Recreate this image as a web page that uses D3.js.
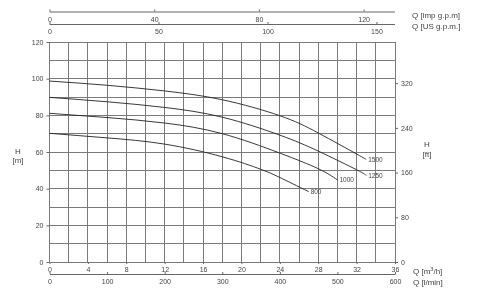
<!DOCTYPE html>
<html><head><meta charset="utf-8">
<script src="https://cdn.jsdelivr.net/npm/d3@7"></script>
<style>
body{margin:0;background:#fff;}
svg{display:block;font-family:"Liberation Sans",Arial,Helvetica,sans-serif;will-change:transform;}
</style></head>
<body><svg id="c" width="480" height="294"></svg>
<script>
// ---- data ----
const qTicks = [0,4,8,12,16,20,24,28,32,36];          // m3/h
const lminTicks = [0,100,200,300,400,500,600];         // l/min
const impTicks = [0,40,80,120];                        // imp gpm
const usTicks = [0,50,100,150];                        // US gpm
const hTicks = [0,20,40,60,80,100,120];                // m
const ftTicks = [0,80,160,240,320];                    // ft
const speeds = ["1500","1250","1000","800"];
const q1500 = [0,6,12,18,24,28,32,33];
const h1500 = [98.7,96.4,93.3,88.5,79.8,70.4,58.9,56];
const q1250 = [0,6,12,18,24,28,32,33];
const h1250 = [89.8,87.4,84.3,79,69.2,60.5,50.3,47.2];
const q1000 = [0,6,12,18,24,28,30];
const h1000 = [81.1,78.8,75.8,70,59.4,50.9,44.8];
const q800 = [0,6,12,18,22,24,27];
const h800 = [70.2,67.7,64.3,57.4,50.6,46.1,38.4];
const curves = [[q1500,h1500],[q1250,h1250],[q1000,h1000],[q800,h800]];

// ---- scales ----
const L=49.5, R=395, T=42, B=262;
const x = d3.scaleLinear([0,36],[L,R]);
const y = d3.scaleLinear([0,120],[B,T]);
const yft = d3.scaleLinear([0,120*3.28084],[B,T]);
const xl = d3.scaleLinear([0,600],[L,R]);
const xImp = d3.scaleLinear([0,36*1000/60/4.54609],[L,R]);
const xUS = d3.scaleLinear([0,36*1000/60/3.78541],[L,R]);

const svg = d3.select("#c");
svg.append("rect").attr("width",480).attr("height",294).attr("fill","#fff");
const txt = "#444", grid = "#7a7a7a";

// grid
const g = svg.append("g");
g.selectAll(".v").data(d3.range(0,37,2)).join("line")
  .attr("x1",d=>x(d)).attr("x2",d=>x(d)).attr("y1",T).attr("y2",B)
  .attr("stroke",grid).attr("stroke-width",1).attr("shape-rendering","crispEdges");
g.selectAll(".h").data(d3.range(0,121,10)).join("line")
  .attr("x1",L).attr("x2",R).attr("y1",d=>y(d)).attr("y2",d=>y(d))
  .attr("stroke",grid).attr("stroke-width",1).attr("shape-rendering","crispEdges");

function style(sel){
  sel.select(".domain").attr("stroke","#666");
  sel.selectAll(".tick line").attr("stroke","#666");
  sel.selectAll("text").attr("fill",txt).style("font-size","7px");
}
// left axis
svg.append("g").attr("transform",`translate(${L},0)`)
  .call(d3.axisLeft(y).tickValues(hTicks).tickSize(3).tickPadding(3))
  .call(s=>s.select(".domain").remove()).call(style);
// right axis (ft)
svg.append("g").attr("transform",`translate(${R},0)`)
  .call(d3.axisRight(yft).tickValues(ftTicks).tickSize(3).tickPadding(3))
  .call(s=>s.select(".domain").remove()).call(style);
// bottom m3/h
svg.append("g").attr("transform",`translate(0,${B})`)
  .call(d3.axisBottom(x).tickValues(qTicks).tickSize(2).tickPadding(3.5))
  .call(s=>s.select(".domain").remove()).call(style);
// l/min
svg.append("g").attr("transform",`translate(0,274)`)
  .call(d3.axisBottom(xl).tickValues(lminTicks).tickSizeInner(-2).tickSizeOuter(0).tickPadding(5.5))
  .call(style);
// imp gpm
svg.append("g").attr("transform",`translate(0,11.5)`)
  .call(d3.axisBottom(xImp).tickValues(impTicks).tickSizeInner(-2).tickSizeOuter(0).tickPadding(5.5))
  .call(s=>s.select(".domain").attr("d",`M${L},0.5H${R}`))
  .call(style);
// US gpm
svg.append("g").attr("transform",`translate(0,24)`)
  .call(d3.axisBottom(xUS).tickValues(usTicks).tickSizeInner(-2).tickSizeOuter(0).tickPadding(5))
  .call(s=>s.select(".domain").attr("d",`M${L},0.5H${R}`))
  .call(style);

// curves
const line = d3.line().x(d=>x(d[0])).y(d=>y(d[1])).curve(d3.curveNatural);
curves.forEach((c,i)=>{
  const pts = c[0].map((q,j)=>[q,c[1][j]]);
  svg.append("path").attr("d",line(pts)).attr("fill","none")
    .attr("stroke","#222").attr("stroke-width",0.9);
  const last = pts[pts.length-1];
  svg.append("text").attr("x",x(last[0])+2).attr("y",y(last[1])+2.5)
    .attr("fill",txt).style("font-size","6.5px").text(speeds[i]);
});

// titles
const t = (xx,yy,s,anchor)=>svg.append("text").attr("x",xx).attr("y",yy)
  .attr("fill",txt).style("font-size","8px").attr("text-anchor",anchor||"start").text(s);
t(412,18,"Q [imp g.p.m]");
t(412,29,"Q [US g.p.m.]");
svg.append("text").attr("x",413).attr("y",273.5).attr("fill",txt).style("font-size","8px")
  .html('Q [m<tspan dy="-2.5" style="font-size:5.5px">3</tspan><tspan dy="2.5">/h]</tspan>');
t(413,285,"Q [l/min]");
t(18,153.5,"H","middle");
t(18,163,"[m]","middle");
t(427,146.5,"H","middle");
t(427,156.5,"[ft]","middle");
</script></body></html>
